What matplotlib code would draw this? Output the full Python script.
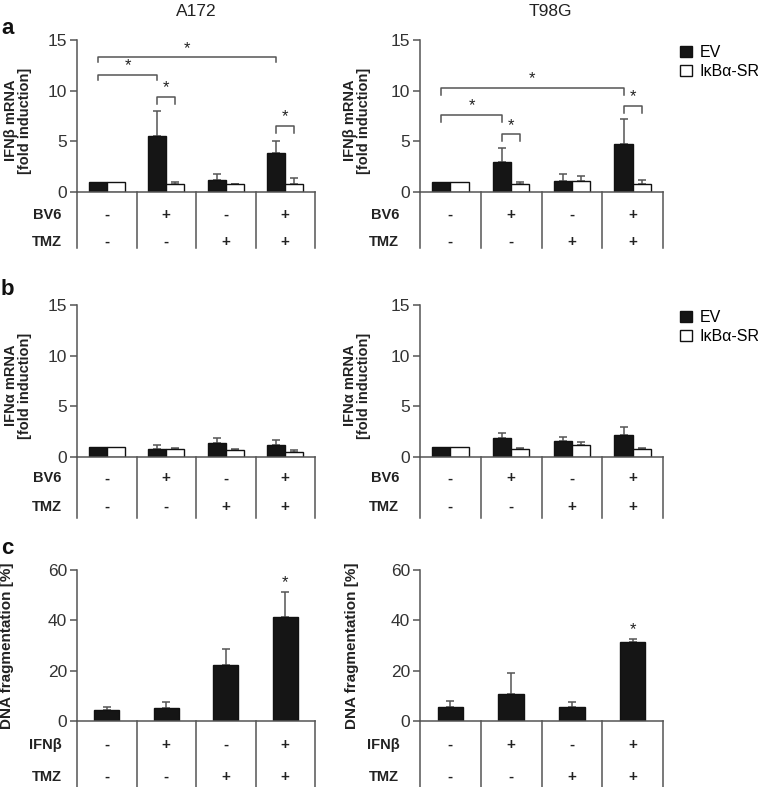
import numpy as np
import matplotlib
matplotlib.use("Agg")
import matplotlib.pyplot as plt
from matplotlib.transforms import blended_transform_factory

plt.rcParams['font.family'] = ['Liberation Sans', 'DejaVu Sans']

# ---- data ----
cells = ["A172", "T98G"]
series = ["EV", "IκBα-SR"]

# panel a: IFNb mRNA (fold induction)
ifnb_ev = {"A172": [1.0, 5.5, 1.2, 3.85], "T98G": [1.0, 2.93, 1.05, 4.73]}
ifnb_ev_err = {"A172": [0, 2.47, 0.6, 1.15], "T98G": [0, 1.37, 0.75, 2.5]}
ifnb_sr = {"A172": [1.0, 0.78, 0.75, 0.75], "T98G": [1.0, 0.8, 1.05, 0.8]}
ifnb_sr_err = {"A172": [0, 0.2, 0.08, 0.62], "T98G": [0, 0.2, 0.55, 0.4]}

# panel b: IFNa mRNA (fold induction)
ifna_ev = {"A172": [1.0, 0.8, 1.42, 1.15], "T98G": [1.0, 1.88, 1.62, 2.18]}
ifna_ev_err = {"A172": [0, 0.4, 0.43, 0.48], "T98G": [0, 0.45, 0.35, 0.82]}
ifna_sr = {"A172": [1.0, 0.75, 0.65, 0.46], "T98G": [1.0, 0.81, 1.14, 0.75]}
ifna_sr_err = {"A172": [0, 0.12, 0.12, 0.26], "T98G": [0, 0.09, 0.32, 0.15]}

# panel c: DNA fragmentation (%)
dna = {"A172": [4.4, 5.0, 22.3, 41.5], "T98G": [5.7, 10.6, 5.7, 31.3]}
dna_err = {"A172": [1.3, 2.7, 6.2, 9.8], "T98G": [2.25, 8.3, 1.7, 1.2]}
dna_star = {"A172": 3, "T98G": 3}

# significance brackets: (group1, series1, group2, series2, top, drop)
brackets = {
    "A172": [(0, 0, 3, 0, 13.3, 0.45), (0, 0, 1, 0, 11.57, 0.5),
             (1, 0, 1, 1, 9.4, 0.75), (3, 0, 3, 1, 6.5, 0.65)],
    "T98G": [(0, 0, 3, 0, 10.3, 0.7), (0, 0, 1, 0, 7.6, 0.7),
             (1, 0, 1, 1, 5.7, 0.7), (3, 0, 3, 1, 8.5, 0.7)],
}

bv6 = ["-", "+", "-", "+"]
tmz = ["-", "-", "+", "+"]
ifnb_trt = ["-", "+", "-", "+"]

W, H = 758, 787
fig = plt.figure(figsize=(W / 100, H / 100), dpi=100)

GRAY = "#555555"
TXT = "#333333"


def px_axes(x0, x1, ytop, ybot):
    return fig.add_axes([x0 / W, 1 - ybot / H, (x1 - x0) / W, (ybot - ytop) / H])


def style(ax, ymax, step):
    ax.set_xlim(0, 4)
    ax.set_ylim(0, ymax)
    ax.set_yticks(np.arange(0, ymax + 0.1, step))
    ax.set_xticks([])
    for s in ["top", "right"]:
        ax.spines[s].set_visible(False)
    for s in ["left", "bottom"]:
        ax.spines[s].set_color(GRAY)
        ax.spines[s].set_linewidth(1.1)
    ax.tick_params(axis="y", colors=GRAY, labelcolor=TXT, labelsize=12.5,
                   length=5, width=1.1, pad=2)


def table(ax, rows, labels, ypos, ybottom, label_x):
    tr = blended_transform_factory(ax.transData, ax.transAxes)
    for xv in range(5):
        ax.plot([xv, xv], [0, ybottom], transform=tr, color=GRAY, lw=1.1,
                clip_on=False)
    for row, lab, yy in zip(rows, labels, ypos):
        ax.text(label_x, yy, lab, transform=ax.transAxes, ha="right",
                va="center", fontsize=10.5, fontweight="bold", color="#222222")
        for i, sym in enumerate(row):
            ax.text(i + 0.5, yy, sym, transform=tr, ha="center", va="center",
                    fontsize=11, fontweight="bold", color="#222222")


w = 0.3
centers = np.arange(4) + 0.5


def paired(ax, ev, ev_err, sr, sr_err):
    ax.bar(centers - w / 2, ev, w, color="#151515", edgecolor="#111111",
           lw=1, label=series[0], zorder=2)
    ax.bar(centers + w / 2, sr, w, color="white", edgecolor="#111111",
           lw=1, label=series[1], zorder=2)
    for xs, v, e in [(centers - w / 2, ev, ev_err), (centers + w / 2, sr, sr_err)]:
        v = np.array(v)
        e = np.array(e)
        m = e > 0
        ax.errorbar(xs[m], v[m], yerr=[np.zeros(m.sum()), e[m]], fmt="none",
                    ecolor=GRAY, elinewidth=1.1, capsize=3, capthick=1.1,
                    zorder=1)


def bracket_pos(g, s):
    return centers[g] - w / 2 if s == 0 else centers[g] + w / 2


def add_legend(ax):
    ax.legend(loc="upper left", bbox_to_anchor=(1.045, 1.01), frameon=False,
              fontsize=11.5, handlelength=0.7, handleheight=0.7,
              handletextpad=0.5, labelspacing=0.25, borderaxespad=0)


# layout in pixels: (x0, x1) per cell, (ytop, ybot) per panel
xs_px = {"A172": (77, 315), "T98G": (420, 663)}
ys_a = (40, 192)
ys_b = (305, 457)
ys_c = (570, 721)

for cell in cells:
    x0, x1 = xs_px[cell]
    lab_x = -0.065 if cell == "A172" else -0.085

    # panel a
    ax = px_axes(x0, x1, *ys_a)
    style(ax, 15, 5)
    paired(ax, ifnb_ev[cell], ifnb_ev_err[cell], ifnb_sr[cell], ifnb_sr_err[cell])
    for g1, s1, g2, s2, top, drop in brackets[cell]:
        xa, xb = bracket_pos(g1, s1), bracket_pos(g2, s2)
        ax.plot([xa, xa, xb, xb], [top - drop, top, top, top - drop],
                color=GRAY, lw=1.1, clip_on=False)
        ax.text((xa + xb) / 2, top + 0.15, "*", ha="center", va="bottom",
                fontsize=12, color="#222222")
    ax.set_ylabel("IFNβ mRNA\n[fold induction]", fontsize=10.5,
                  fontweight="bold", color="#222222", linespacing=1.0)
    ax.yaxis.set_label_coords(-0.19 if cell == "A172" else -0.20, 0.47)
    table(ax, [bv6, tmz], ["BV6", "TMZ"], [-0.15, -0.33], -0.37, lab_x)
    if cell == "T98G":
        add_legend(ax)

    # panel b
    ax = px_axes(x0, x1, *ys_b)
    style(ax, 15, 5)
    paired(ax, ifna_ev[cell], ifna_ev_err[cell], ifna_sr[cell], ifna_sr_err[cell])
    ax.set_ylabel("IFNα mRNA\n[fold induction]", fontsize=10.5,
                  fontweight="bold", color="#222222", linespacing=1.0)
    ax.yaxis.set_label_coords(-0.19 if cell == "A172" else -0.20, 0.47)
    table(ax, [bv6, tmz], ["BV6", "TMZ"], [-0.14, -0.33], -0.40, lab_x)
    if cell == "T98G":
        add_legend(ax)

    # panel c
    ax = px_axes(x0, x1, *ys_c)
    style(ax, 60, 20)
    vals = np.array(dna[cell])
    errs = np.array(dna_err[cell])
    ax.bar(centers, vals, 0.42, color="#151515", edgecolor="#111111", lw=1,
           zorder=2)
    ax.errorbar(centers, vals, yerr=[np.zeros(4), errs], fmt="none",
                ecolor=GRAY, elinewidth=1.1, capsize=3, capthick=1.1, zorder=1)
    k = dna_star[cell]
    ax.text(centers[k], vals[k] + errs[k] + 0.8, "*", ha="center", va="bottom",
            fontsize=12, color="#222222")
    ax.set_ylabel("DNA fragmentation [%]", fontsize=11, fontweight="bold",
                  color="#222222")
    ax.yaxis.set_label_coords(-0.265 if cell == "A172" else -0.25, 0.5)
    table(ax, [ifnb_trt, tmz], ["IFNβ", "TMZ"], [-0.16, -0.37], -0.45, lab_x)

# titles and panel letters
fig.text(196 / W, 1 - 11 / H, "A172", ha="center", va="center", fontsize=12.5,
         color="#222222")
fig.text(550 / W, 1 - 11 / H, "T98G", ha="center", va="center", fontsize=12.5,
         color="#222222")
for letter, ypx in [("a", 28), ("b", 289), ("c", 549)]:
    fig.text(1 / W, 1 - ypx / H, letter, ha="left", va="center", fontsize=16,
             fontweight="bold", color="#111111")

fig.savefig("out.png", dpi=100)
